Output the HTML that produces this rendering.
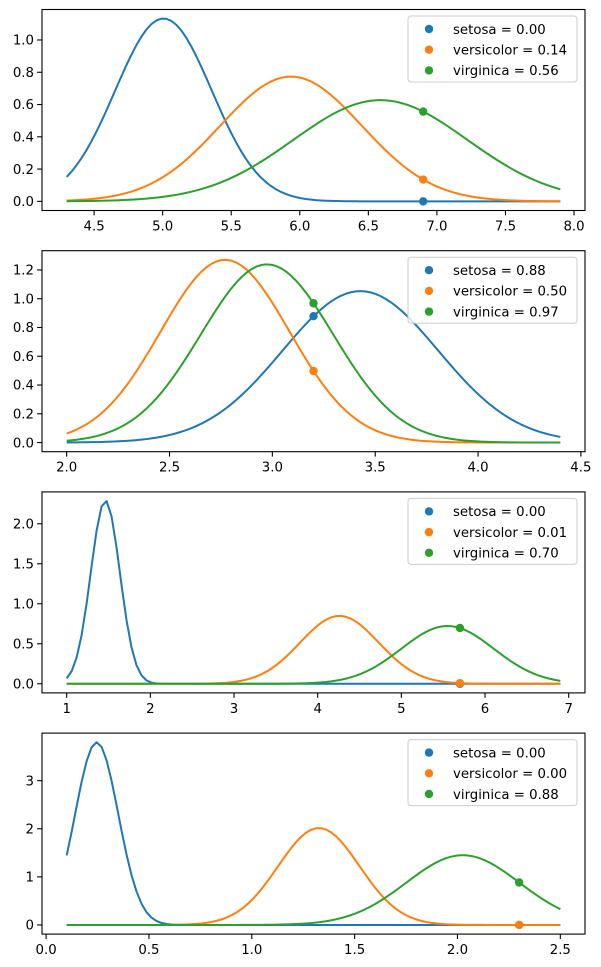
<!DOCTYPE html>
<html><head><meta charset="utf-8"><style>
body{margin:0;background:#fff}
svg{display:block;font-family:"DejaVu Sans","Liberation Sans",sans-serif}
</style></head><body>
<svg id="fig" width="601" height="967" viewBox="0 0 601 967"></svg>
<script>
// data: per-feature class means/stds (Gaussian fits), x ranges, test points, legend values
const classNames = ["setosa","versicolor","virginica"];
const featureNames = ["sepal-length","sepal-width","petal-length","petal-width"];
const means = [[5.006,5.936,6.588],[3.428,2.770,2.974],[1.462,4.260,5.552],[0.246,1.326,2.026]];
const stds = [[0.352,0.516,0.636],[0.379,0.314,0.322],[0.174,0.470,0.552],[0.105,0.198,0.275]];
const xMins = [4.3,2.0,1.0,0.1];
const xMaxs = [7.9,4.4,6.9,2.5];
const testX = [6.9,3.2,5.7,2.3];
const legendValues = [[0.00,0.14,0.56],[0.88,0.50,0.97],[0.00,0.01,0.70],[0.00,0.00,0.88]];
const xTicks = [[4.5,5.0,5.5,6.0,6.5,7.0,7.5,8.0],[2.0,2.5,3.0,3.5,4.0,4.5],[1,2,3,4,5,6,7],[0.0,0.5,1.0,1.5,2.0,2.5]];
const xTickDigits = [1,1,0,1];
const yTicks = [[0,0.2,0.4,0.6,0.8,1.0],[0,0.2,0.4,0.6,0.8,1.0,1.2],[0,0.5,1.0,1.5,2.0],[0,1,2,3]];
const yTickDigits = [1,1,1,0];
const nPoints = 100;

const colors = ["#1f77b4","#ff7f0e","#2ca02c"];
const NS = "http://www.w3.org/2000/svg";
const svg = document.getElementById("fig");
function mk(tag, attrs, parent){const e=document.createElementNS(NS,tag);for(const k in attrs)e.setAttribute(k,attrs[k]);(parent||svg).appendChild(e);return e;}
function pdf(x,m,s){return Math.exp(-0.5*((x-m)/s)**2)/(s*Math.sqrt(2*Math.PI));}

const L=42,R=585,H=201,top0=9.5,step=241.2;
for(let f=0;f<4;f++){
  const T=top0+step*f,B=T+H;
  const g=mk("g",{});
  
  
  const xs=[];for(let i=0;i<nPoints;i++)xs.push(xMins[f]+(xMaxs[f]-xMins[f])*i/(nPoints-1));
  const ys=[0,1,2].map(c=>xs.map(x=>pdf(x,means[f][c],stds[f][c])));
  let ymax=0,ymin=0;ys.forEach(a=>a.forEach(v=>{ymax=Math.max(ymax,v);}));
  const dx=(xMaxs[f]-xMins[f])*0.05,dy=(ymax-ymin)*0.05;
  const x0=xMins[f]-dx,x1=xMaxs[f]+dx,y0=ymin-dy,y1=ymax+dy;
  const sx=v=>L+(v-x0)/(x1-x0)*(R-L);
  const sy=v=>B-(v-y0)/(y1-y0)*H;
  xTicks[f].forEach(t=>{
    const X=sx(t);
    const tl=mk("line",{x1:X,x2:X,y1:B,y2:B+4.9,stroke:"#000","stroke-width":1.1},g);
    
    
    const tx=mk("text",{x:X,y:B+20,"text-anchor":"middle","font-size":"13.3px",fill:"#000"},g);
    
    
    tx.textContent=t.toFixed(xTickDigits[f]);
  });
  yTicks[f].forEach(t=>{
    const Y=sy(t);
    const tl=mk("line",{x1:L-4.9,x2:L,y1:Y,y2:Y,stroke:"#000","stroke-width":1.1},g);
    
    
    const tx=mk("text",{x:L-8,y:Y+4.7,"text-anchor":"end","font-size":"13.3px",fill:"#000"},g);
    
    
    tx.textContent=t.toFixed(yTickDigits[f]);
  });
  for(let c=0;c<3;c++){
    const d=xs.map((x,i)=>(i?"L":"M")+sx(x).toFixed(2)+","+sy(ys[c][i]).toFixed(2)).join("");
    const p=mk("path",{d:d,fill:"none",stroke:colors[c],"stroke-width":2,"stroke-linejoin":"round"},g);
    
    
  }
  for(let c=0;c<3;c++){
    const dot=mk("circle",{cx:sx(testX[f]),cy:sy(pdf(testX[f],means[f][c],stds[f][c])),r:4.2,fill:colors[c]},g);
    
    
  }
  const fr=mk("rect",{x:L,y:T,width:R-L,height:H,fill:"none",stroke:"#000","stroke-width":1.1},g);
  
  
  const lg=mk("g",{},g);
  
  
  mk("rect",{x:408,y:T+6.5,width:169,height:66,rx:3,fill:"#fff","fill-opacity":0.8,stroke:"#ccc","stroke-width":1},lg);
  for(let c=0;c<3;c++){
    const Y=T+19.5+c*20.7;
    const e=mk("g",{},lg);
    
    
    mk("circle",{cx:429,cy:Y,r:4.2,fill:colors[c]},e);
    const t=mk("text",{x:453,y:Y+4.8,"font-size":"13.3px",fill:"#000"},e);
    t.textContent=classNames[c]+" = "+legendValues[f][c].toFixed(2);
  }
}
</script>
</body></html>
